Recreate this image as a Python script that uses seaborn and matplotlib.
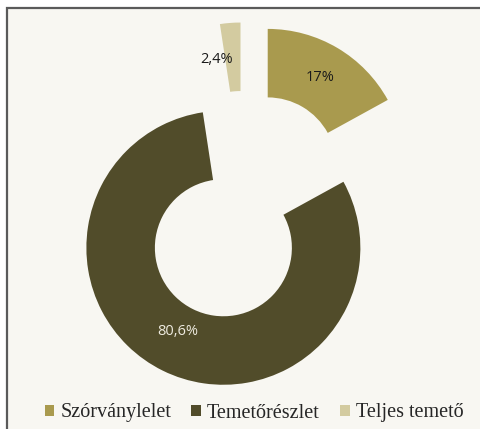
import matplotlib
matplotlib.use("Agg")
import matplotlib.pyplot as plt
import seaborn as sns
from matplotlib.patches import Rectangle, Patch

categories = ["Szórványlelet", "Temetőrészlet", "Teljes temető"]
shares = [17.0, 80.6, 2.4]
colors = ["#A99A4E", "#514C2A", "#D3CBA0"]
label_colors = ["#1a1a1a", "#EEEBE0", "#1a1a1a"]


def fmt_pct(p):
    return ("%g" % round(p, 1)).replace(".", ",") + "%"


sns.set_theme(style="white")
plt.rcParams["font.family"] = ["Open Sans", "DejaVu Sans"]

W, H = 481, 429
fig = plt.figure(figsize=(W / 100, H / 100), dpi=100)
fig.patch.set_facecolor("white")

# panel background with the grey frame on top/left only
frame = Rectangle((7.5 / W, -0.5), 2.0, (H - 7.5) / H + 0.5,
                  transform=fig.transFigure, facecolor="#F8F7F2",
                  edgecolor="#5A5A5A", lw=1.6, zorder=-1)
fig.add_artist(frame)

ax = fig.add_axes([0, 0, 1, 1])
ax.patch.set_alpha(0)

wedges, texts, autotexts = ax.pie(
    shares,
    explode=[0.34] * len(shares),
    colors=colors,
    startangle=90,
    counterclock=False,
    autopct=fmt_pct,
    pctdistance=0.75,
    wedgeprops=dict(width=0.5, linewidth=0),
    textprops=dict(fontsize=10.5),
)

for t, c in zip(autotexts, label_colors):
    t.set_color(c)

# label nudges as in the original
x, y = autotexts[2].get_position()
autotexts[2].set_position((x - 0.12, y - 0.02))
x, y = autotexts[1].get_position()
autotexts[1].set_position((x, y + 0.06))

cx, cy, r = 244, 206, 137
ax.set_xlim(-cx / r, (W - cx) / r)
ax.set_ylim((cy - H) / r, cy / r)
ax.set_aspect("equal")
ax.axis("off")

handles = [Patch(facecolor=c, edgecolor="none") for c in colors]
fig.legend(handles, categories, loc="center", bbox_to_anchor=(254 / W, 1 - 413 / H),
           ncol=3, frameon=False,
           prop=dict(family="Liberation Serif", size=14.5),
           handlelength=0.48, handleheight=0.48, handletextpad=0.3,
           columnspacing=1.0)

fig.savefig("out.png", dpi=100)
